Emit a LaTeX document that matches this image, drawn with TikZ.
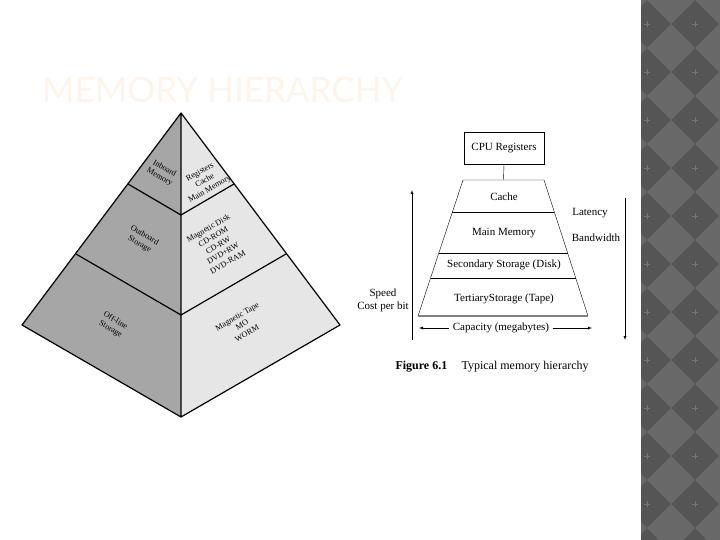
\documentclass[tikz,border=0pt]{standalone}
\usepackage{fontspec}
\setmainfont{Liberation Serif}
\newfontfamily\titlefont{Lato}
\usetikzlibrary{calc}
\definecolor{titlepeach}{HTML}{FDF4EC}
\definecolor{faceleft}{HTML}{A6A6A6}
\definecolor{faceright}{HTML}{E6E6E6}
\definecolor{stripdark}{HTML}{555555}
\definecolor{striplight}{HTML}{686868}
\definecolor{stripcross}{HTML}{767676}
\tikzset{
    face label/.style={align=center,font=\fontsize{8.2}{9.8}\selectfont,inner sep=1pt},
    fig text/.style={font=\fontsize{11}{13}\selectfont},
}
\begin{document}
\begin{tikzpicture}[x=1pt,y=-1pt,>=latex]
    \useasboundingbox (0,0) rectangle (720,540);
    % side strip
    \fill[stripdark] (641,0) rectangle (720,540);
    \begin{scope}
        \clip (641,0) rectangle (720,540);
        \foreach \x in {623,671,719} {
            \foreach \y in {0,48,...,576} {
                \fill[striplight] (\x,\y-24) -- (\x+24,\y) -- (\x,\y+24) -- (\x-24,\y) -- cycle;
            }
        }
        \foreach \x in {647,695} {
            \foreach \y in {24,72,...,504} {
                \draw[stripcross,thin] (\x-3,\y) -- (\x+3,\y) (\x,\y-3) -- (\x,\y+3);
            }
        }
    \end{scope}
    \node[anchor=base west,inner sep=0,text=titlepeach,
        font=\titlefont\fontsize{35}{38}\selectfont] (title) at (42,103) {MEMORY HIERARCHY};
    % pyramid
    \coordinate (apex) at (181,113);
    \coordinate (lc) at (22,325);
    \coordinate (rc) at (340,325);
    \coordinate (bot) at (181,417);
    \fill[faceleft] (apex) -- (lc) -- (bot) -- cycle;
    \fill[faceright] (apex) -- (rc) -- (bot) -- cycle;
    \draw[line width=1.2pt,line join=round] (apex) -- (lc) -- (bot) -- (rc) -- cycle (apex) -- (bot);
    \draw[line width=1.2pt] (128,184) -- (181,215) -- (234,184);
    \draw[line width=1.2pt] (76,254) -- (181,315) -- (286,254);
    \node[face label,rotate=-30] (inboard) at (162,173) {Inboard\\Memory};
    \node[face label,rotate=30] (regs) at (205,181) {Registers\\Cache\\Main Memory};
    \node[face label,rotate=-30] (outboard) at (142,240) {Outboard\\Storage};
    \node[face label,rotate=30] (disk) at (218,245) {Magnetic Disk\\CD-ROM\\CD-RW\\DVD+RW\\DVD-RAM};
    \node[face label,rotate=-30] (offline) at (113,325) {Off-line\\Storage};
    \node[face label,rotate=30] (tape) at (242,325) {Magnetic Tape\\MO\\WORM};
    % hierarchy figure
    \node[draw,fig text,minimum width=80pt,minimum height=32pt] (cpu) at (504,148) {CPU Registers};
    \coordinate (tl) at (463,180);
    \coordinate (tr) at (544,180);
    \coordinate (bl) at (418,316);
    \coordinate (br) at (588,316);
    \coordinate (traptop) at ($(tl)!0.5!(tr)$);
    \draw (cpu.south) -- (traptop);
    \draw (bl) -- (tl) -- (tr) -- (br);
    \draw[gray,line width=1.5pt] (bl) -- (br);
    \foreach \f in {0.235,0.537,0.72} {
        \draw ($(tl)!\f!(bl)$) -- ($(tr)!\f!(br)$);
    }
    \node[fig text] (cache) at (504,197) {Cache};
    \node[fig text] (mainmem) at (504,233) {Main Memory};
    \node[fig text] (secondary) at (504,265) {Secondary Storage (Disk)};
    \node[fig text] (tertiary) at (504,299) {TertiaryStorage (Tape)};
    \node[fig text] (capacity) at (501,328) {Capacity (megabytes)};
    \coordinate (capl) at (419,328);
    \coordinate (capr) at (592,328);
    \draw[->] (capacity) -- (capl);
    \draw[->] (capacity) -- (capr);
    \coordinate (speedlow) at (412,340);
    \coordinate (speedhigh) at (412,190);
    \draw[->] (speedlow) -- (speedhigh);
    \node[fig text,align=center] (speed) at (383,300) {Speed\\Cost per bit};
    \coordinate (lathigh) at (625,198);
    \coordinate (latlow) at (625,340);
    \draw[->] (lathigh) -- (latlow);
    \node[fig text] (latency) at (590,213) {Latency};
    \node[fig text] (bandwidth) at (596,238) {Bandwidth};
    \node[anchor=west,font=\fontsize{12}{14}\selectfont\bfseries] (figno) at (392,367) {Figure 6.1};
    \node[anchor=west,font=\fontsize{12}{14}\selectfont] (caption) at (458,367) {Typical memory hierarchy};
\end{tikzpicture}
\end{document}
